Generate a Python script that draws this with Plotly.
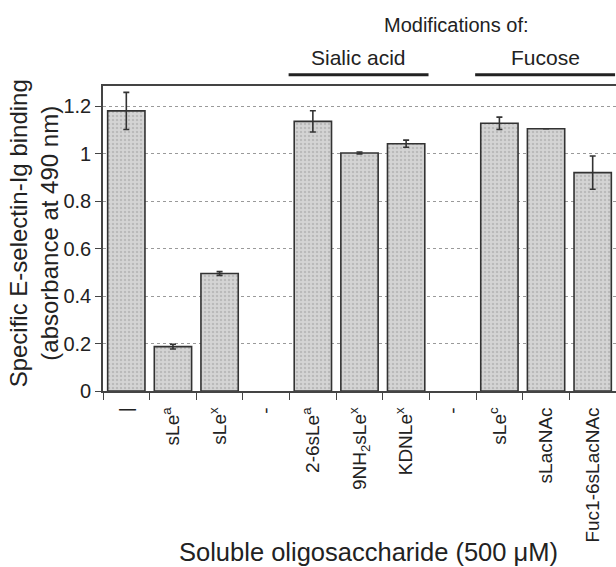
import plotly.graph_objects as go

# ---- data ----
labels = ["|", "sLe<sup>a</sup>", "sLe<sup>x</sup>", "-",
          "2-6sLe<sup>a</sup>", "9NH<sub>2</sub>sLe<sup>x</sup>", "KDNLe<sup>x</sup>", "-",
          "sLe<sup>c</sup>", "sLacNAc", "Fuc1-6sLacNAc"]
values = [1.18, 0.187, 0.495, None, 1.136, 1.003, 1.042, None, 1.128, 1.105, 0.92]
errors = [0.078, 0.01, 0.008, None, 0.045, 0.004, 0.015, None, 0.026, 0.0, 0.07]
y_ticks = [0, 0.2, 0.4, 0.6, 0.8, 1.0, 1.2]
groups = [("Sialic acid", 4, 6), ("Fucose", 8, 10)]
header = "Modifications of:"
x_title = "Soluble oligosaccharide (500 μM)"
y_title = "Specific E-selectin-Ig binding<br>(absorbance at 490 nm)"

FONT = "Liberation Sans, Arial, Helvetica, sans-serif"
TXT = "#222222"

xs = list(range(len(labels)))

fig = go.Figure()
fig.add_trace(go.Bar(
    x=xs, y=values, width=0.8,
    marker=dict(color="#d0d0d0", line=dict(color="#333333", width=1.6),
                pattern=dict(shape=".", fgcolor="#a0a0a0", bgcolor="#d4d4d4", size=4, solidity=0.3)),
    error_y=dict(type="data", array=errors, visible=True, color="#333333",
                 thickness=1.6, width=3),
    showlegend=False,
))

fig.update_layout(
    width=616, height=567,
    margin=dict(l=103, r=0, t=86, b=176),
    paper_bgcolor="white", plot_bgcolor="white",
    font=dict(family=FONT, color=TXT),
    bargap=0.2,
)

fig.update_xaxes(
    range=[-0.5, len(labels) - 0.5],
    tickmode="array", tickvals=xs, ticktext=labels,
    tickangle=-90, tickfont=dict(size=19, color=TXT),
    ticks="", ticklabelstandoff=7,
    minor=dict(tickmode="linear", tick0=-0.5, dtick=1, ticks="outside",
               ticklen=7, tickwidth=1.3, tickcolor="#444444"),
    showline=True, linecolor="#444444", linewidth=1.6, mirror=True,
    showgrid=False, zeroline=False,
)
fig.update_yaxes(
    range=[0, 1.285],
    tickmode="array", tickvals=y_ticks,
    tickfont=dict(size=20, color=TXT),
    ticks="outside", ticklen=6, tickwidth=1.3, tickcolor="#444444",
    showline=True, linecolor="#444444", linewidth=1.6,
    showgrid=True, gridcolor="#9a9a9a", gridwidth=1, griddash="dot",
    zeroline=False,
)

# axis titles
fig.add_annotation(text=x_title, xref="paper", yref="paper", x=0.517, y=-0.528,
                   showarrow=False, font=dict(size=25.5, color=TXT), xanchor="center", yanchor="middle")
fig.add_annotation(text=y_title, xref="paper", yref="paper", x=-0.135, y=0.516,
                   showarrow=False, textangle=-90, font=dict(size=24, color=TXT),
                   xanchor="center", yanchor="middle")

# header and group labels
fig.add_annotation(text=header, xref="paper", yref="paper", x=0.689, y=1.20,
                   showarrow=False, font=dict(size=20, color=TXT), xanchor="center", yanchor="middle")
for name, a, b in groups:
    x0 = a - 0.52
    x1 = b + 0.48
    fig.add_shape(type="line", xref="x", yref="paper", x0=x0, x1=x1, y0=1.037, y1=1.037,
                  line=dict(color="#222222", width=3))
    fig.add_annotation(text=name, xref="x", yref="paper", x=(x0 + x1) / 2, y=1.092,
                       showarrow=False, font=dict(size=21, color=TXT),
                       xanchor="center", yanchor="middle")

fig.write_html("out.html")
